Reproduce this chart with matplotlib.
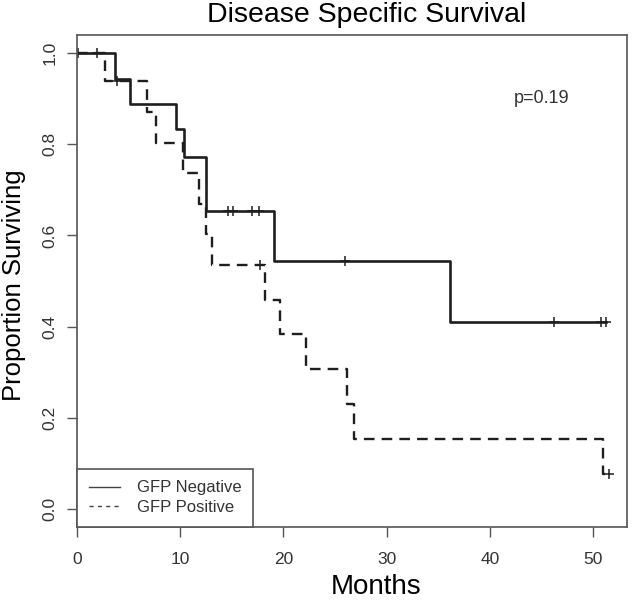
import matplotlib
matplotlib.use("Agg")
import matplotlib.pyplot as plt
from matplotlib.lines import Line2D
import numpy as np

plt.rcParams['font.family'] = ['Liberation Sans', 'DejaVu Sans']

# step curves (time in months, proportion surviving)
neg_time = [0, 3.7, 5.1, 9.6, 10.4, 12.5, 19.1, 36.1, 51.3]
neg_surv = [1.0, 0.944, 0.889, 0.833, 0.772, 0.654, 0.544, 0.409, 0.409]
neg_cens = [0.1, 1.9, 14.6, 15.1, 17.0, 17.6, 26.0, 46.2, 50.8, 51.3]

pos_time = [0, 2.7, 6.8, 7.7, 10.3, 11.8, 12.5, 13.1, 18.2, 19.7, 22.2,
            26.2, 26.8, 51.0, 51.6]
pos_surv = [1.0, 0.938, 0.871, 0.804, 0.737, 0.670, 0.603, 0.536, 0.459,
            0.383, 0.306, 0.230, 0.153, 0.077, 0.077]
pos_cens = [3.9, 17.7, 51.6]

x_ticks = [0, 10, 20, 30, 40, 50]
y_ticks = [0.0, 0.2, 0.4, 0.6, 0.8, 1.0]
p_text = "p=0.19"


def survAt(times, surv, t):
    # value of the step curve at time t
    idx = np.searchsorted(times, t, side="right") - 1
    return np.array(surv)[idx]


fig = plt.figure(figsize=(6.34, 6.0), dpi=100)
ax = fig.add_axes([77/634, 1-527/600, (627-77)/634, (527-35)/600])

lineCol = "#1e1e1e"
ax.step(neg_time, neg_surv, where="post", color=lineCol, lw=1.9)
ax.step(pos_time, pos_surv, where="post", color=lineCol, lw=1.7,
        linestyle=(0, (4.5, 3.0)))

ax.plot(neg_cens, survAt(neg_time, neg_surv, neg_cens), "+", color=lineCol,
        ms=7, mew=1.1)
ax.plot(pos_cens, survAt(pos_time, pos_surv, pos_cens), "+", color=lineCol,
        ms=7, mew=1.1)

ax.set_xlim(0, 53.3)
ax.set_ylim(-0.04, 1.04)
ax.set_xticks(x_ticks)
ax.set_xticklabels([str(v) for v in x_ticks])
ax.set_yticks(y_ticks)
ax.set_yticklabels(["%.1f" % v for v in y_ticks], rotation=90, va="center")

for sp in ax.spines.values():
    sp.set_color("#555555")
    sp.set_linewidth(1.2)
ax.tick_params(length=7, width=1, color="#555555", labelsize=12.5,
               labelcolor="#333333")
ax.tick_params(axis="x", pad=11)
ax.tick_params(axis="y", pad=7)

ax.text(45, 0.90, p_text, fontsize=13, ha="center", va="center",
        color="#333333")

fig.text(367/634, 1-15/600, "Disease Specific Survival", fontsize=20.5,
         ha="center", va="center")
fig.text(14/634, 1-285/600, "Proportion Surviving", fontsize=18.5,
         rotation=90, ha="center", va="center")
fig.text(376/634, 1-587/600, "Months", fontsize=20, ha="center",
         va="center")

handles = [Line2D([], [], color="#444444", lw=1.0),
           Line2D([], [], color="#444444", lw=1.0, linestyle=(0, (3, 3)))]
leg = ax.legend(handles, ["GFP Negative", "GFP Positive"], loc="lower left",
                borderaxespad=0, fancybox=False, framealpha=1,
                edgecolor="#555555", fontsize=12, handlelength=1.9,
                handletextpad=1.0, labelspacing=0.3, borderpad=0.7)
leg.get_frame().set_linewidth(1.2)
for t in leg.get_texts():
    t.set_color("#333333")

fig.savefig("out.png", dpi=100)
